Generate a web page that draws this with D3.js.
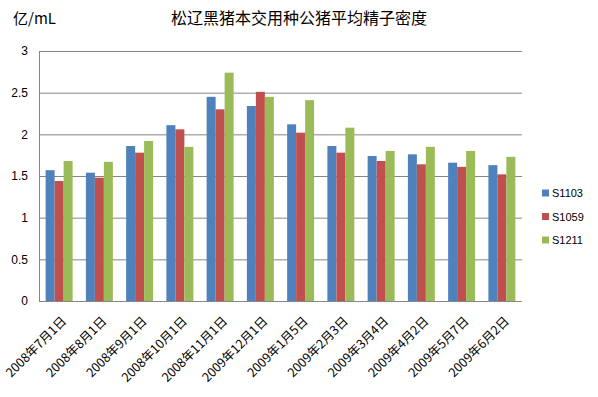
<!DOCTYPE html>
<html lang="zh">
<head>
<meta charset="UTF-8">
<title>松辽黑猪本交用种公猪平均精子密度</title>
<script src="https://d3js.org/d3.v7.min.js"></script>
<style>
  body { margin: 0; background: #fff; }
  text { font-family: "Liberation Sans", "Noto Sans CJK SC", sans-serif; fill: #000; }
  .cjk { font-family: "Noto Sans CJK SC", sans-serif; }
</style>
</head>
<body>
<svg id="chart" width="598" height="397"></svg>
<script>
const dates = ['2008年7月1日', '2008年8月1日', '2008年9月1日', '2008年10月1日', '2008年11月1日',
  '2009年12月1日', '2009年1月5日', '2009年2月3日', '2009年3月4日', '2009年4月2日',
  '2009年5月7日', '2009年6月2日'];
const seriesNames = ['S1103', 'S1059', 'S1211'];
const s1103 = [1.57, 1.54, 1.86, 2.11, 2.45, 2.34, 2.12, 1.86, 1.74, 1.76, 1.66, 1.63];
const s1059 = [1.44, 1.48, 1.78, 2.06, 2.30, 2.51, 2.02, 1.78, 1.68, 1.64, 1.61, 1.52];
const s1211 = [1.68, 1.67, 1.92, 1.85, 2.74, 2.45, 2.41, 2.08, 1.80, 1.85, 1.80, 1.73];
const yTicks = [0, 0.5, 1, 1.5, 2, 2.5, 3];
const colors = ['#4F81BD', '#C0504D', '#9BBB59'];

const values = [s1103, s1059, s1211];
const svg = d3.select('#chart');

const plotLeft = 39, plotRight = 522, plotTop = 51, plotBottom = 301;

const x = d3.scaleBand().domain(dates).range([plotLeft, plotRight]).paddingInner(0.33).paddingOuter(0.165);
const x1 = d3.scaleBand().domain(seriesNames).range([0, x.bandwidth()]);
const y = d3.scaleLinear().domain([0, 3]).range([plotBottom, plotTop]);
const color = d3.scaleOrdinal().domain(seriesNames).range(colors);

// grid lines
svg.append('g')
  .selectAll('line')
  .data(yTicks.filter(d => d > 0))
  .join('line')
  .attr('x1', plotLeft).attr('x2', plotRight)
  .attr('y1', d => y(d) + 0.5).attr('y2', d => y(d) + 0.5)
  .attr('stroke', '#868686').attr('stroke-width', 1);

// bars
const groups = svg.append('g')
  .selectAll('g')
  .data(dates)
  .join('g')
  .attr('transform', d => `translate(${x(d)},0)`);

groups.selectAll('rect')
  .data((d, i) => seriesNames.map((s, k) => ({ s, v: values[k][i] })))
  .join('rect')
  .attr('x', d => x1(d.s))
  .attr('width', x1.bandwidth())
  .attr('y', d => y(d.v))
  .attr('height', d => y(0) - y(d.v))
  .attr('fill', d => color(d.s));

// axes lines
svg.append('line')
  .attr('x1', plotLeft + 0.5).attr('x2', plotLeft + 0.5)
  .attr('y1', plotTop).attr('y2', plotBottom + 0.5)
  .attr('stroke', '#868686');
svg.append('line')
  .attr('x1', plotLeft).attr('x2', plotRight)
  .attr('y1', plotBottom + 0.5).attr('y2', plotBottom + 0.5)
  .attr('stroke', '#868686');

// y tick labels
svg.append('g')
  .attr('transform', `translate(${plotLeft},0)`)
  .call(d3.axisLeft(y).tickValues(yTicks).tickSize(0).tickPadding(11).tickFormat(d3.format('')))
  .call(g => g.select('.domain').remove())
  .selectAll('text')
  .style('font-size', '12px');

// x tick labels
svg.append('g')
  .attr('transform', `translate(0,${plotBottom})`)
  .call(d3.axisBottom(x).tickSize(0).tickPadding(0))
  .call(g => g.select('.domain').remove())
  .selectAll('text')
  .attr('class', 'cjk')
  .style('font-size', '12.5px')
  .style('text-anchor', 'end')
  .attr('dy', 0)
  .attr('y', 0)
  .attr('transform', 'translate(8,21) rotate(-45)');

// title and unit
svg.append('text')
  .attr('class', 'cjk')
  .attr('x', 299).attr('y', 24)
  .attr('text-anchor', 'middle')
  .style('font-size', '16px')
  .text('松辽黑猪本交用种公猪平均精子密度');

svg.append('text')
  .attr('class', 'cjk')
  .attr('x', 13).attr('y', 24)
  .style('font-size', '15px')
  .text('亿/mL');

// legend
const legend = svg.append('g')
  .selectAll('g')
  .data(seriesNames)
  .join('g')
  .attr('transform', (d, i) => `translate(542,${193 + i * 23.5})`);

legend.append('rect')
  .attr('x', 0).attr('y', -3.5)
  .attr('width', 7).attr('height', 7)
  .attr('fill', d => color(d));

legend.append('text')
  .attr('x', 10).attr('y', 4)
  .style('font-size', '11px')
  .text(d => d);
</script>
</body>
</html>
